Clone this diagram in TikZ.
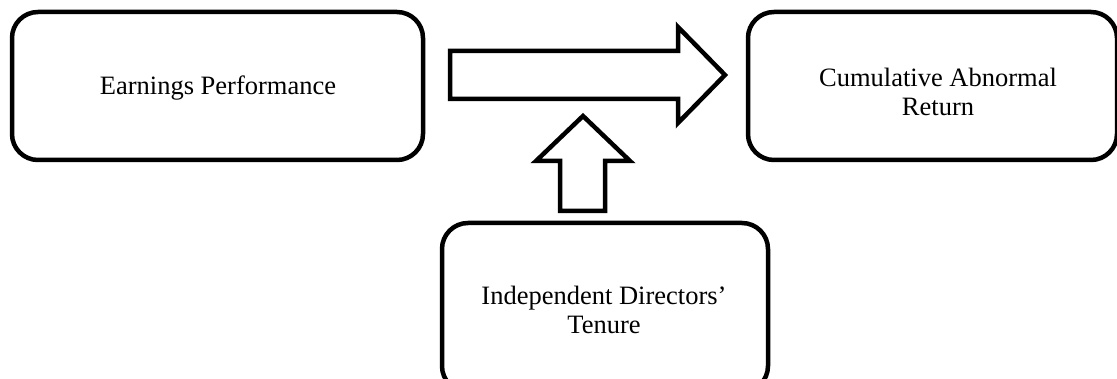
\documentclass[tikz,border=0pt]{standalone}
\usepackage{fontspec}
\setmainfont{Liberation Serif}
\begin{document}
\begin{tikzpicture}[x=1pt,y=-1pt,
  boxstyle/.style={draw=black,line width=4.5pt,rounded corners=26pt,fill=white},
  arrowstyle/.style={draw=black,line width=4.5pt,fill=white,line join=miter},
  labelstyle/.style={font=\fontsize{26.5}{29}\selectfont,align=center,text=black}]
\useasboundingbox[fill=white] (0,0) rectangle (1117,379);
% boxes
\draw[boxstyle] (12,12) rectangle (423,160);
\draw[boxstyle] (748,12) rectangle (1117,160);
\draw[boxstyle] (442,223) rectangle (768,392);
% labels
\node[labelstyle] (ep) at (218,88) {Earnings Performance};
\node[labelstyle] (car) at (938,92) {Cumulative Abnormal\\Return};
\node[labelstyle] (idt) at (604,310) {Independent Directors'\\Tenure};
% right block arrow
\draw[arrowstyle] (450,51) -- (678,51) -- (678,27) -- (725,75) -- (678,123) -- (678,99) -- (450,99) -- cycle;
% up block arrow
\draw[arrowstyle] (560,211) -- (560,161) -- (536,161) -- (583,116) -- (630,161) -- (605,161) -- (605,211) -- cycle;
\end{tikzpicture}
\end{document}
